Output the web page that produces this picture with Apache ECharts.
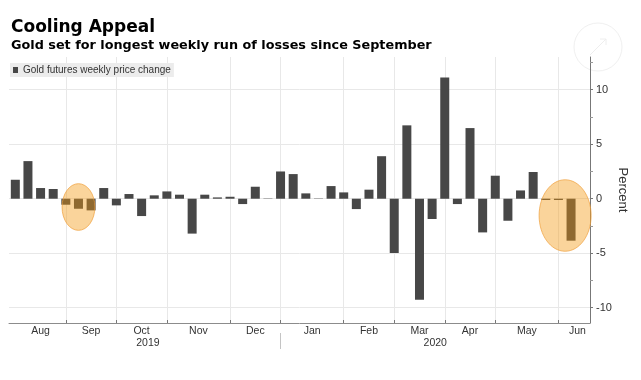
<!DOCTYPE html>
<html><head><meta charset="utf-8">
<script src="https://cdn.jsdelivr.net/npm/echarts@6/dist/echarts.min.js"></script>
<style>html,body{margin:0;padding:0;background:#fff}#c{width:641px;height:380px}</style>
</head><body><div id="c"></div>
<script>
// Weekly % change of gold futures, one value per week (Aug 2019 - Jun 2020)
const weeklyChange = [
  1.74, 3.45, 0.98, 0.89, -0.55, -0.92, -1.07, 0.98, -0.61, 0.43,
  -1.59, 0.31, 0.67, 0.37, -3.2, 0.37, 0.12, 0.18, -0.49, 1.1,
  0.03, 2.5, 2.26, 0.49, 0.03, 1.16, 0.58, -0.95, 0.83, 3.9,
  -4.98, 6.73, -9.27, -1.86, 11.13, -0.49, 6.48, -3.09, 2.11, -2.02,
  0.76, 2.45, -0.12, -0.12, -3.85
];
const seriesName = 'Gold futures weekly price change';
const monthNames = ['Aug','Sep','Oct','Nov','Dec','Jan','Feb','Mar','Apr','May','Jun'];
const monthStartWeek = [0, 4, 8, 12, 17, 21, 26, 30, 34, 38, 43, 46]; // last entry = end
const yearNames = ['2019', '2020'];
const yearStartWeek = [0, 21, 45.5]; // last entry = end
const yTicks = [-10, -5, 0, 5, 10];
const yMinorTicks = [-7.5, -2.5, 2.5, 7.5, 12.5];
// highlighted runs of losses: [centre week, centre value, half-width (weeks), half-height (%)]
const highlights = [[5, -0.76, 1.3, 2.14], [43.53, -1.54, 2.06, 3.28]];

const X_MIN = -0.5, X_MAX = 45.5;
const GRID = {left: 9, right: 51, top: 57, bottom: 57};
const monthMid = monthNames.map((m, i) => (monthStartWeek[i] + monthStartWeek[i + 1]) / 2);
const yearMid = yearNames.map((y, i) => (yearStartWeek[i] + yearStartWeek[i + 1]) / 2);
const nameAt = (vals, names) => v => { const i = vals.findIndex(x => Math.abs(x - v) < 1e-6); return i >= 0 ? names[i] : ''; };

const FONT = 'Liberation Sans, Arial, sans-serif';
const el = document.getElementById('c');
const chart = echarts.init(el, null, {renderer: 'canvas'});
const gridWidth = el.clientWidth - GRID.left - GRID.right;
chart.setOption({
  animation: false,
  backgroundColor: '#fff',
  textStyle: {fontFamily: FONT},
  title: [
    {text: 'Cooling Appeal', left: 11, top: 19, padding: 0,
     textStyle: {fontFamily: 'DejaVu Sans', fontWeight: 'bold', fontSize: 17, color: '#000'}},
    {text: 'Gold set for longest weekly run of losses since September', left: 11, top: 39, padding: 0,
     textStyle: {fontFamily: 'DejaVu Sans', fontWeight: 'bold', fontSize: 12.8, color: '#000'}}
  ],
  legend: {
    data: [seriesName], left: 10, top: 63, padding: [2, 3, 2, 3],
    backgroundColor: '#ececec', icon: 'rect', itemWidth: 5, itemHeight: 6,
    textStyle: {fontSize: 10, color: '#333', fontFamily: FONT}
  },
  grid: Object.assign({outerBoundsMode: 'none'}, GRID),
  xAxis: [
    {type: 'value', min: X_MIN, max: X_MAX, position: 'bottom',
     axisLine: {show: true, onZero: false, lineStyle: {color: '#8c8c8c', width: 1}},
     axisTick: {show: true, customValues: monthStartWeek.slice(1, -1), length: 3, inside: true, lineStyle: {color: '#777'}},
     axisLabel: {customValues: monthMid, formatter: nameAt(monthMid, monthNames), margin: 3, fontSize: 10.5, color: '#333'},
     splitLine: {show: true, lineStyle: {color: '#e8e8e8'}}},
    {type: 'value', min: X_MIN, max: X_MAX, position: 'bottom', offset: 10,
     axisLine: {show: false, onZero: false},
     axisTick: {show: true, customValues: [yearStartWeek[1]], length: 16, lineStyle: {color: '#c4c4c4'}},
     axisLabel: {customValues: yearMid, formatter: nameAt(yearMid, yearNames), margin: 5, fontSize: 10.5, color: '#333'},
     splitLine: {show: false}}
  ],
  yAxis: [
    {type: 'value', position: 'right', min: -11.4, max: 13,
     axisLine: {show: true, onZero: false, lineStyle: {color: '#777'}},
     axisTick: {show: true, customValues: yTicks, length: 3, lineStyle: {color: '#777'}},
     axisLabel: {customValues: yTicks, margin: 6, fontSize: 11, color: '#333'},
     splitLine: {show: true, lineStyle: {color: '#e8e8e8'}},
     name: 'Percent', nameLocation: 'middle', nameRotate: -90, nameGap: 26, nameMoveOverlap: false,
     nameTextStyle: {fontSize: 13, color: '#333'}},
    // minor ticks on the same right-hand line
    {type: 'value', position: 'left', offset: -gridWidth, min: -11.4, max: 13,
     axisLine: {show: false, onZero: false},
     axisTick: {show: true, inside: true, customValues: yMinorTicks, length: 3, lineStyle: {color: '#999'}},
     axisLabel: {show: false}, splitLine: {show: false}}
  ],
  series: [
    {name: seriesName, type: 'bar', xAxisIndex: 0, yAxisIndex: 0, barWidth: 9,
     itemStyle: {color: '#474747'},
     data: weeklyChange.map((v, i) => [i, v])},
    {type: 'custom', xAxisIndex: 0, yAxisIndex: 0, z: 5, silent: true,
     encode: {x: 0, y: 1},
     data: highlights,
     renderItem: function (params, api) {
       const c = api.coord([api.value(0), api.value(1)]);
       const s = api.size([api.value(2), api.value(3)]);
       return {type: 'ellipse', shape: {cx: c[0], cy: c[1], rx: s[0], ry: s[1]},
               style: {fill: 'rgba(244,153,16,0.42)', stroke: 'rgba(240,160,60,0.7)', lineWidth: 1}};
     }}
  ],
  graphic: [
    {type: 'circle', shape: {cx: 598, cy: 47, r: 24}, style: {fill: 'none', stroke: '#f0f0f0', lineWidth: 1}},
    {type: 'polyline', shape: {points: [[590, 55], [606, 39]]}, style: {stroke: '#eeeeee', lineWidth: 1}},
    {type: 'polyline', shape: {points: [[600, 39], [606, 39], [606, 45]]}, style: {fill: 'none', stroke: '#eeeeee', lineWidth: 1}}
  ]
});
</script></body></html>
